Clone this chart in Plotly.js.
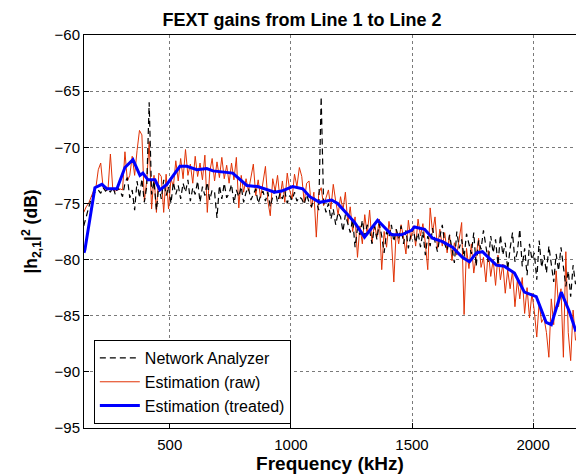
<!DOCTYPE html>
<html>
<head>
<meta charset="utf-8">
<script src="https://cdn.plot.ly/plotly-3.0.1.min.js"></script>
<style>html,body{margin:0;padding:0;background:#fff;}#chart{width:576px;height:474px;}</style>
</head>
<body>
<div id="chart"></div>
<script>
// Frequencies (kHz) of the sampled raw and network-analyzer curves
const freqs = [
145,155,165,175,185,195,205,215,225,235,
245,255,265,275,285,295,305,315,325,335,
345,355,365,375,385,395,405,415,425,435,
445,455,465,475,485,495,505,515,525,535,
545,555,565,575,585,595,605,615,625,635,
645,655,665,675,685,695,705,715,725,735,
745,755,765,775,785,795,805,815,825,835,
845,855,865,875,885,895,905,915,925,935,
945,955,965,975,985,995,1005,1015,1025,1035,
1045,1055,1065,1075,1085,1095,1105,1115,1125,1135,
1145,1155,1165,1175,1185,1195,1205,1215,1225,1235,
1245,1255,1265,1275,1285,1295,1305,1315,1325,1335,
1345,1355,1365,1375,1385,1395,1405,1415,1425,1435,
1445,1455,1465,1475,1485,1495,1505,1515,1525,1535,
1545,1555,1565,1575,1585,1595,1605,1615,1625,1635,
1645,1655,1665,1675,1685,1695,1705,1715,1725,1735,
1745,1755,1765,1775,1785,1795,1805,1815,1825,1835,
1845,1855,1865,1875,1885,1895,1905,1915,1925,1935,
1945,1955,1965,1975,1985,1995,2005,2015,2025,2035,
2045,2055,2065,2075,2085,2095,2105,2115,2125,2135,
2145,2155,2165,2175];

// Estimation (raw), dB
const rawGain = [
-75.8,-75.3,-75.0,-74.4,-73.9,-73.6,-72.0,-71.4,-73.6,-73.8,
-73.8,-70.6,-73.8,-73.9,-73.8,-73.7,-73.8,-70.4,-73.0,-72.5,
-70.8,-72.5,-70.3,-68.5,-68.9,-74.8,-73.0,-69.5,-75.5,-72.5,
-75.8,-72.3,-72.6,-75.8,-72.4,-75.5,-72.8,-73.5,-71.2,-73.0,
-71.0,-72.8,-70.2,-72.5,-71.5,-73.2,-70.8,-72.6,-71.4,-72.9,
-70.7,-75.8,-72.2,-71.0,-73.0,-71.3,-72.7,-70.9,-72.8,-71.6,
-73.2,-71.4,-72.9,-70.9,-75.4,-72.5,-74.0,-72.8,-73.9,-72.5,
-71.5,-74.3,-72.9,-74.5,-73.0,-71.7,-74.8,-76.1,-72.8,-73.9,
-72.5,-74.6,-73.0,-74.9,-72.3,-73.8,-74.6,-72.4,-73.5,-71.8,
-72.6,-74.9,-73.2,-73.0,-75.4,-74.0,-78.0,-74.1,-73.6,-75.2,
-74.5,-73.8,-75.5,-73.3,-74.8,-76.0,-74.4,-75.6,-74.0,-76.8,
-75.3,-77.5,-76.2,-79.8,-77.0,-78.6,-76.0,-77.8,-75.6,-78.5,
-76.8,-78.0,-76.4,-80.9,-77.5,-78.9,-76.6,-78.2,-82.0,-77.3,
-78.6,-76.9,-78.0,-79.5,-76.5,-78.2,-77.0,-78.8,-76.4,-77.9,
-76.8,-78.5,-80.9,-75.4,-77.6,-76.2,-79.0,-77.3,-78.8,-77.6,
-79.4,-77.8,-80.1,-78.5,-79.6,-78.2,-76.7,-84.9,-79.0,-80.8,
-78.6,-81.2,-79.5,-78.1,-80.7,-79.8,-82.0,-79.2,-81.5,-80.0,
-82.3,-79.6,-81.8,-80.4,-83.0,-80.9,-82.6,-81.0,-84.2,-81.8,
-83.5,-81.6,-84.8,-82.5,-85.2,-83.0,-84.6,-86.9,-83.8,-85.6,
-85.2,-86.5,-88.7,-83.5,-85.8,-81.0,-84.2,-82.6,-88.7,-79.3,
-86.5,-89.0,-84.5,-87.2];

// Network Analyzer, dB
const naGain = [
-77.0,-76.2,-75.3,-74.6,-74.2,-73.9,-73.8,-74.1,-73.6,-73.9,
-73.7,-74.0,-73.5,-74.2,-73.6,-73.9,-74.4,-73.2,-72.7,-74.5,
-73.8,-75.6,-73.0,-74.5,-72.8,-74.9,-73.5,-66.0,-74.2,-73.0,
-75.6,-73.4,-74.6,-72.9,-74.3,-73.5,-75.0,-73.1,-74.2,-73.4,
-74.6,-73.2,-74.0,-72.9,-74.8,-73.6,-74.2,-73.0,-74.9,-73.5,
-74.3,-73.1,-74.7,-73.8,-74.0,-76.3,-73.4,-74.6,-73.2,-74.5,
-74.1,-73.3,-75.0,-73.8,-74.4,-73.5,-74.9,-74.0,-73.6,-74.7,
-74.2,-73.7,-75.0,-74.3,-73.9,-74.8,-74.0,-75.3,-74.4,-73.8,
-74.9,-74.1,-74.6,-73.9,-75.0,-74.3,-74.7,-74.0,-74.8,-74.4,
-74.6,-75.1,-74.2,-74.9,-75.3,-74.5,-74.8,-75.6,-65.5,-74.9,
-75.8,-75.0,-76.4,-75.5,-76.9,-75.8,-76.2,-77.5,-76.0,-76.8,
-77.6,-76.4,-78.9,-77.2,-77.8,-76.5,-77.9,-76.9,-77.4,-78.6,
-77.0,-78.2,-76.8,-77.9,-79.4,-77.5,-78.0,-76.9,-78.4,-77.3,
-78.1,-77.0,-78.6,-77.4,-79.0,-77.8,-77.2,-78.5,-77.6,-78.9,
-77.5,-79.6,-77.9,-78.8,-77.2,-78.4,-79.3,-78.0,-76.9,-78.6,
-79.2,-77.8,-78.9,-80.3,-77.5,-79.0,-78.2,-79.8,-77.7,-78.6,
-79.5,-77.6,-80.6,-78.3,-79.1,-77.4,-78.8,-80.2,-77.9,-79.4,
-78.2,-80.5,-77.8,-79.6,-78.5,-80.9,-79.0,-77.6,-80.2,-79.3,
-77.3,-80.6,-79.0,-81.4,-78.6,-80.0,-79.4,-81.8,-78.3,-80.7,
-79.6,-81.2,-78.8,-80.4,-82.0,-79.5,-81.0,-78.9,-80.8,-82.4,
-81.0,-83.3,-80.5,-82.2];

// Estimation (treated)
const treatedFreqs = [146,150,191,220,241,282,315,348,377,389,410,439,459,488,542,571,612,653,678,760,818,863,933,962,1007,1049,1078,1119,1168,1193,1222,1263,1304,1358,1416,1457,1498,1510,1552,1585,1626,1667,1708,1737,1766,1791,1848,1881,1923,1964,2013,2054,2075,2116,2149,2177];
const treatedGain = [-79.4,-79.1,-73.6,-73.3,-73.7,-73.7,-71.8,-71.1,-72.5,-72.3,-72.9,-72.9,-73.8,-73.3,-71.7,-71.7,-72.0,-71.9,-72.1,-72.3,-73.4,-73.5,-74.0,-73.9,-73.5,-73.7,-74.4,-74.9,-74.7,-75.0,-75.7,-76.7,-78.0,-76.5,-77.8,-77.8,-77.4,-77.1,-77.3,-78.1,-78.4,-78.9,-79.8,-80.2,-79.4,-79.3,-80.5,-80.6,-81.2,-82.9,-83.3,-85.6,-85.8,-82.9,-84.6,-86.4];

const xTicks = [500, 1000, 1500, 2000];
const yTicks = [-95, -90, -85, -80, -75, -70, -65, -60];

const FONT = 'Liberation Sans, Arial, Helvetica, sans-serif';

const traces = [
  {x: freqs, y: rawGain, type: 'scatter', mode: 'lines', name: 'Estimation (raw)',
   line: {color: 'rgb(225,50,5)', width: 1}, legendrank: 2},
  {x: freqs, y: naGain, type: 'scatter', mode: 'lines', name: 'Network Analyzer',
   line: {color: '#000', width: 1.2, dash: '6px,4px'}, legendrank: 1},
  {x: treatedFreqs, y: treatedGain, type: 'scatter', mode: 'lines', name: 'Estimation (treated)',
   line: {color: 'rgb(0,0,255)', width: 3}, legendrank: 3}
];

const axisCommon = {
  showline: true, linecolor: '#000', linewidth: 1, mirror: true,
  ticks: 'inside', ticklen: 5, tickcolor: '#000', tickwidth: 1,
  showgrid: true, gridcolor: '#7a7a7a', griddash: 'dot', gridwidth: 1,
  zeroline: false, tickfont: {family: FONT, size: 15, color: '#000'}
};

const layout = {
  width: 576, height: 474,
  margin: {l: 84, r: 0, t: 35, b: 46},
  paper_bgcolor: '#fff', plot_bgcolor: '#fff',
  font: {family: FONT, color: '#000'},
  title: {text: '<b>FEXT gains from Line 1 to Line 2</b>', font: {family: FONT, size: 18, color: '#000'},
          xref: 'paper', x: 0.443, xanchor: 'center', yref: 'container', y: 1 - 20/474, yanchor: 'middle'},
  xaxis: Object.assign({}, axisCommon, {
    range: [146, 2177], tickvals: xTicks, ticktext: xTicks.map(String),
    ticklabelstandoff: 3,
    title: {text: '<b>Frequency (kHz)</b>', font: {family: FONT, size: 19, color: '#000'}, standoff: 0}
  }),
  yaxis: Object.assign({}, axisCommon, {
    range: [-95, -60], tickvals: yTicks, ticktext: yTicks.map(v => '\u2212' + Math.abs(v)),
    ticklabelstandoff: 0,
    title: {text: '<b>|h<sub>2,1</sub>|<sup>2</sup> (dB)</b>', font: {family: FONT, size: 17.5, color: '#000'}, standoff: 12}
  }),
  showlegend: true,
  legend: {x: 0.02, y: 0.01, xanchor: 'left', yanchor: 'bottom',
    bgcolor: '#fff', bordercolor: '#000', borderwidth: 1,
    font: {family: FONT, size: 16, color: '#000'}, itemwidth: 40, tracegroupgap: 0}
};

Plotly.newPlot('chart', traces, layout, {displayModeBar: false, staticPlot: true});
</script>
</body>
</html>
